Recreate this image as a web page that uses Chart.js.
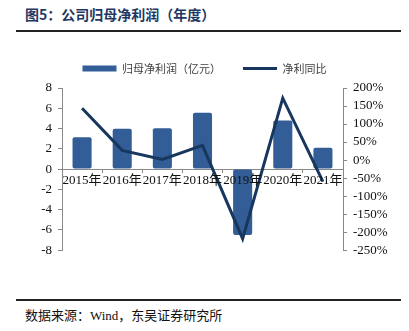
<!DOCTYPE html>
<html>
<head>
<meta charset="utf-8">
<script src="https://cdn.jsdelivr.net/npm/chart.js@4/dist/chart.umd.min.js"></script>
<style>
  html, body { margin: 0; padding: 0; background: #fff; }
  #wrap { position: relative; width: 409px; height: 331px; overflow: hidden; }
  #title { position: absolute; left: 25px; top: 4px; font: bold 14px "Noto Sans CJK SC", sans-serif; color: #1f3864; white-space: nowrap; }
  .rule { position: absolute; left: 16px; width: 385px; height: 2px; background: #222; }
  #source { position: absolute; left: 25px; top: 305px; font: 13px "Liberation Serif", "Noto Sans CJK SC", serif; color: #111; white-space: nowrap; }
  #box { position: absolute; left: 0; top: 41px; width: 409px; height: 223px; }
</style>
</head>
<body>
<div id="wrap">
  <div id="title">图5：公司归母净利润（年度）</div>
  <div class="rule" style="top:30px"></div>
  <div id="box"><canvas id="myChart"></canvas></div>
  <div class="rule" style="top:299px"></div>
  <div id="source">数据来源：Wind，东吴证券研究所</div>
</div>
<script>
    const years = ["2015年", "2016年", "2017年", "2018年", "2019年", "2020年", "2021年"];
    const profit = [3.15, 3.97, 4.03, 5.56, -6.5, 4.8, 2.1];
    const growth = [144, 27, 2, 41, -218, 172, -60];

    const serif = "'Liberation Serif', 'Noto Sans CJK SC', serif";

    // a bit more room between the legend and the plot
    const legendGap = {
        id: "legendGap",
        beforeInit(chart) {
            const fit = chart.legend.fit;
            chart.legend.fit = function () {
                fit.bind(chart.legend)();
                this.height += 4;
            };
        }
    };

    new Chart("myChart", {
        type: "bar",
        data: {
            labels: years,
            datasets: [{
                label: "归母净利润（亿元）",
                data: profit,
                backgroundColor: "#335d96",
                borderRadius: 2,
                borderSkipped: false,
                barPercentage: 0.95,
                categoryPercentage: 0.5,
                pointStyle: "rect",
                yAxisID: "y",
                order: 2
            }, {
                type: "line",
                label: "净利同比",
                data: growth,
                borderColor: "#17375e",
                backgroundColor: "#17375e",
                borderWidth: 3,
                pointRadius: 0,
                pointStyle: "line",
                tension: 0,
                yAxisID: "y1",
                order: 1
            }]
        },
        plugins: [legendGap],
        options: {
            responsive: true,
            maintainAspectRatio: false,
            animation: false,
            layout: { padding: { left: 0, right: 0, top: 0, bottom: 8 } },
            plugins: {
                legend: {
                    display: true,
                    labels: {
                        usePointStyle: true,
                        pointStyleWidth: 34,
                        boxHeight: 6,
                        padding: 22,
                        color: "#404040",
                        font: { family: "'Noto Sans CJK SC', sans-serif", size: 11 },
                        sort: (a, b) => a.datasetIndex - b.datasetIndex
                    }
                },
                tooltip: { enabled: false }
            },
            scales: {
                x: {
                    position: { y: 0 },
                    grid: { display: true, drawOnChartArea: false, tickLength: 3, color: "#888" },
                    border: { color: "#888" },
                    ticks: {
                        z: 1,
                        autoSkip: false,
                        maxRotation: 0,
                        padding: 1,
                        color: "#111",
                        font: { family: serif, size: 13 }
                    }
                },
                y: {
                    position: "left",
                    min: -8,
                    max: 8,
                    afterFit: function (s) { s.width = 62; },
                    grid: { drawOnChartArea: false, tickLength: 4, color: "#888" },
                    border: { color: "#888" },
                    ticks: {
                        stepSize: 2,
                        padding: 6,
                        color: "#111",
                        font: { family: serif, size: 13 }
                    }
                },
                y1: {
                    position: "right",
                    min: -250,
                    max: 200,
                    afterFit: function (s) { s.width = 66; },
                    grid: { drawOnChartArea: false, tickLength: 4, color: "#888" },
                    border: { color: "#888" },
                    ticks: {
                        stepSize: 50,
                        autoSkip: false,
                        padding: 6,
                        color: "#111",
                        font: { family: serif, size: 13 },
                        callback: function (v) { return v + "%"; }
                    }
                }
            }
        }
    });
</script>
</body>
</html>
